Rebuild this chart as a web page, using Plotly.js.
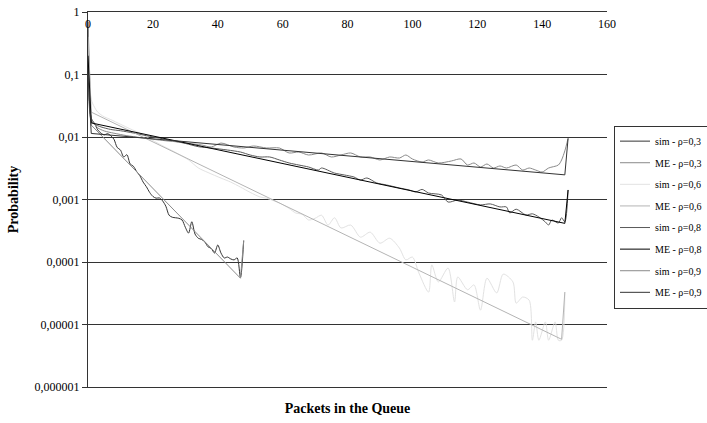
<!DOCTYPE html>
<html>
<head>
<meta charset="utf-8">
<script src="https://cdn.plot.ly/plotly-3.0.1.min.js"></script>
<style>html,body{margin:0;padding:0;background:#fff;}#chart{width:707px;height:423px;}</style>
</head>
<body>
<div id="chart"></div>
<script>
// ---------- data ----------
var seriesNames = ["sim - \u03c1=0,3","ME - \u03c1=0,3","sim - \u03c1=0,6","ME - \u03c1=0,6","sim - \u03c1=0,8","ME - \u03c1=0,8","sim - \u03c1=0,9","ME - \u03c1=0,9"];

// rho = 0.3
var sim03X = [0,1,2,3,4,5,6,7,8,9,10,11,12,13,14,15,16,17,18,19,20,21,22,23,24,25,26,27,28,29,30,31,32,33,34,35,36,37,38,39,40,41,42,43,44,45,46,47,48];
var sim03Y = [0.7,0.02,0.0165,0.013,0.0115,0.0108,0.0113,0.0105,0.0092,0.0068,0.0062,0.0048,0.0052,0.0037,0.0034,0.0028,0.0024,0.0019,0.0016,0.0013,0.00112,0.00105,0.00106,0.00095,0.00078,0.00056,0.00052,0.00051,0.0005,0.00047,0.00036,0.00029,0.00044,0.00028,0.00024,0.00023,0.00021,0.000175,0.000165,0.000139,0.000187,0.000139,0.000116,0.00012,0.000112,0.000108,0.000116,0.000056,0.00022];
var me03X = [0,1,47,48];
var me03Y = [0.7,0.0155,0.000055,0.00022];

// rho = 0.6
var sim06X = [0,1,2,3,5,7,10,13,16,19,22,25,28,31,34,37,41,44,47,50,53,55,59,62,64,66,68,70,72,74,76,78,81,84,87,90,93,96,98,100,102,105,106,108,111,113,114,117,119,121,123,126,128,131,132,134,136,137,138,139,141,142,144,145,146,147];
var sim06Y = [0.4,0.04,0.03,0.025,0.021,0.019,0.016,0.0135,0.0115,0.0094,0.0077,0.0064,0.0053,0.0043,0.0032,0.0027,0.0022,0.0019,0.00158,0.0013,0.0011,0.00105,0.00088,0.00072,0.00061,0.00058,0.00047,0.0005,0.00056,0.00039,0.00051,0.00035,0.00039,0.00025,0.0003,0.0002,0.00024,0.000167,0.000108,0.00012,0.000067,0.000033,0.00009,0.000048,0.00008,0.000023,0.0000575,0.000036,0.000043,0.000017,0.000055,0.000032,0.000064,0.000048,0.000022,0.0000275,0.0000245,0.0000056,0.000011,0.0000056,0.000011,0.0000056,0.000011,0.0000056,0.0000056,0.000033];
var me06X = [0,1,146,147];
var me06Y = [0.4,0.025,0.0000058,0.000033];

// rho = 0.8
var sim08X = [0,1,2,4,7,10,14,18,22,26,30,34,38,43,47,50,53,56,59,62,65,68,71,72,76,79,82,84,86,89,92,96,99,101,103,105,109,111,114,117,121,124,127,129,130,132,135,137,139,141,142,143,145,146,147,148];
var sim08Y = [0.2,0.018,0.016,0.0145,0.0132,0.0126,0.0116,0.0105,0.0096,0.0087,0.0079,0.0070,0.00667,0.00619,0.00575,0.00515,0.00479,0.00479,0.00429,0.00384,0.00356,0.00331,0.00296,0.00319,0.00265,0.00247,0.00229,0.00205,0.00221,0.00184,0.00171,0.00153,0.00142,0.00132,0.00145,0.00127,0.00118,0.00091,0.00098,0.00091,0.00082,0.00085,0.00076,0.00076,0.00061,0.0007,0.000565,0.00059,0.000525,0.000437,0.00039,0.00047,0.00042,0.00051,0.00044,0.00142];
var me08X = [0,1,147,148];
var me08Y = [0.2,0.0168,0.000415,0.00142];

// rho = 0.9
var sim09X = [0,1,2,3,5,8,12,16,20,24,28,31,35,38,41,45,48,51,55,59,62,65,68,72,75,78,81,84,87,90,93,96,98,100,103,105,108,112,115,117,119,121,123,125,127,129,132,134,136,138,140,142,145,146,147,148];
var sim09Y = [0.1,0.02,0.016,0.014,0.0125,0.0115,0.0105,0.0098,0.0092,0.0087,0.0083,0.0079,0.00745,0.00692,0.0080,0.00692,0.00667,0.00718,0.00667,0.00667,0.00555,0.00575,0.00515,0.00555,0.00479,0.00515,0.00555,0.00479,0.00479,0.00429,0.00479,0.00461,0.00515,0.00445,0.00398,0.00429,0.00384,0.00413,0.00445,0.00356,0.00384,0.00331,0.0037,0.00319,0.00344,0.00319,0.00356,0.00296,0.00319,0.00296,0.00275,0.00319,0.00356,0.00429,0.006,0.0095];
var me09X = [0,1,147,148];
var me09Y = [0.1,0.0114,0.00248,0.0095];

// axis ticks
var xTickVals = [0,20,40,60,80,100,120,140,160];
var yTickVals = [1,0.1,0.01,0.001,0.0001,0.00001,0.000001];
var yTickText = ["1","0,1","0,01","0,001","0,0001","0,00001","0,000001"];

// ---------- styling ----------
var colors = ["#333333","#8a8a8a","#e2e2e2","#b4b4b4","#5a5a5a","#000000","#8a8a8a","#333333"];
var xs = [sim03X,me03X,sim06X,me06X,sim08X,me08X,sim09X,me09X];
var ys = [sim03Y,me03Y,sim06Y,me06Y,sim08Y,me08Y,sim09Y,me09Y];
var FONT = "Liberation Serif, Times New Roman, serif";

var traces = [];
for (var i = 0; i < 8; i++) {
  var isSim = (i % 2 === 0);
  traces.push({
    type: "scatter",
    mode: "lines",
    name: seriesNames[i],
    legendgroup: "g" + i,
    xaxis: isSim ? "x" : "x2",
    x: xs[i],
    y: ys[i],
    line: isSim ? {color: colors[i], width: 1, shape: "spline", smoothing: 0.8} : {color: colors[i], width: 1},
    hoverinfo: "x+y"
  });
}

var layout = {
  width: 707,
  height: 423,
  margin: {l: 88, r: 100, t: 12, b: 36, autoexpand: false},
  paper_bgcolor: "#ffffff",
  plot_bgcolor: "#ffffff",
  font: {family: FONT, color: "#000"},
  showlegend: true,
  legend: {
    x: 1.0135, xanchor: "left", y: 0.697, yanchor: "top",
    bordercolor: "#333", borderwidth: 1, bgcolor: "#fff",
    font: {family: FONT, size: 10, color: "#000"},
    tracegroupgap: 2.6
  },
  xaxis: {
    range: [0, 160],
    showticklabels: false,
    ticks: "",
    showline: true, linecolor: "#333", linewidth: 1,
    showgrid: false, zeroline: false,
    title: {text: "<b>Packets in the Queue</b>", font: {family: FONT, size: 14, color: "#000"}, standoff: 16}
  },
  xaxis2: {
    overlaying: "x", side: "top", anchor: "y",
    range: [0, 160],
    tickmode: "array", tickvals: xTickVals,
    ticklabelposition: "outside",
    ticklabelstandoff: -22,
    ticks: "",
    showline: true, linecolor: "#333", linewidth: 1,
    showgrid: false, zeroline: false,
    tickfont: {family: FONT, size: 12, color: "#000"}
  },
  yaxis: {
    type: "log",
    range: [-6, 0],
    tickmode: "array", tickvals: yTickVals, ticktext: yTickText,
    ticks: "outside", ticklen: 5, tickcolor: "#333",
    showline: true, linecolor: "#333", linewidth: 1,
    showgrid: true, gridcolor: "#333", gridwidth: 1,
    zeroline: false,
    tickfont: {family: FONT, size: 12, color: "#000"},
    title: {text: "<b>Probability</b>", font: {family: FONT, size: 14, color: "#000"}, standoff: 12}
  }
};

Plotly.newPlot("chart", traces, layout, {displayModeBar: false, staticPlot: true});
</script>
</body>
</html>
